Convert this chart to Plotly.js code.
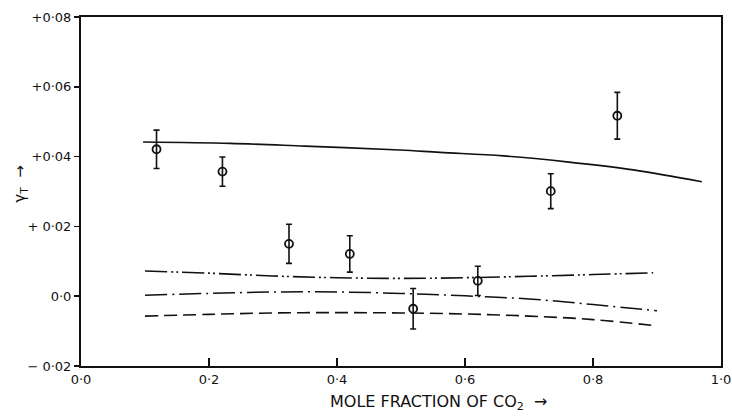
<!DOCTYPE html>
<html>
<head>
<meta charset="utf-8">
<script src="https://cdn.plot.ly/plotly-3.0.1.min.js"></script>
<style>html,body{margin:0;padding:0;background:#fff;}#chart{width:732px;height:419px;}</style>
</head>
<body>
<div id="chart"></div>
<script>
// Experimental points
const pointX = [0.118, 0.221, 0.325, 0.420, 0.519, 0.620, 0.734, 0.838];
const pointY = [0.0421, 0.0357, 0.0150, 0.0121, -0.0036, 0.0044, 0.0301, 0.0517];
const pointErr = [0.0055, 0.0042, 0.0056, 0.0052, 0.0058, 0.0042, 0.0050, 0.0067];

// Solid curve
const solidX = [0.097, 0.233, 0.35, 0.498, 0.561, 0.66, 0.759, 0.863, 0.97];
const solidY = [0.0442, 0.0438, 0.0430, 0.0419, 0.0412, 0.0402, 0.0385, 0.0362, 0.0328];

// Dash-dot-dot curve
const ddotX = [0.10, 0.20, 0.30, 0.40, 0.50, 0.60, 0.70, 0.80, 0.894];
const ddotY = [0.0072, 0.0066, 0.0058, 0.0053, 0.0051, 0.0053, 0.0057, 0.0062, 0.0067];

// Dash-dot curve
const dotX = [0.10, 0.20, 0.30, 0.40, 0.50, 0.60, 0.70, 0.80, 0.90];
const dotY = [0.0003, 0.0008, 0.0012, 0.0012, 0.0008, 0.0001, -0.0008, -0.0024, -0.0042];

// Dashed curve
const dashX = [0.10, 0.20, 0.30, 0.40, 0.50, 0.60, 0.70, 0.80, 0.90];
const dashY = [-0.0057, -0.0052, -0.0048, -0.0047, -0.0048, -0.0051, -0.0057, -0.0067, -0.0085];

// Tick labels
const xTickVals = [0, 0.2, 0.4, 0.6, 0.8, 1.0];
const xTickText = ['0·0', '0·2', '0·4', '0·6', '0·8', '1·0'];
const yTickVals = [-0.02, 0, 0.02, 0.04, 0.06, 0.08];
const yTickText = ['− 0·02', '0·0', '+ 0·02', '+0·04', '+0·06', '+0·08'];

const ink = '#111';
const traces = [
  {x: solidX, y: solidY, mode: 'lines', line: {color: ink, width: 1.6, shape: 'spline'}, hoverinfo: 'skip'},
  {x: ddotX, y: ddotY, mode: 'lines', line: {color: ink, width: 1.6, shape: 'spline', dash: '22px,4px,2px,3px,2px,4px'}, hoverinfo: 'skip'},
  {x: dotX, y: dotY, mode: 'lines', line: {color: ink, width: 1.5, shape: 'spline', dash: '22px,5px,2px,5px'}, hoverinfo: 'skip'},
  {x: dashX, y: dashY, mode: 'lines', line: {color: ink, width: 1.6, shape: 'spline', dash: '13px,6px'}, hoverinfo: 'skip'},
  {x: pointX, y: pointY, mode: 'markers',
   marker: {symbol: 'circle-open', size: 8, color: ink, line: {width: 1.8, color: ink}},
   error_y: {type: 'data', array: pointErr, visible: true, color: ink, thickness: 1.6, width: 3}}
];

const font = {family: 'DejaVu Sans, Arial, sans-serif', color: ink};
const layout = {
  width: 732, height: 419,
  margin: {l: 81, r: 11, t: 17, b: 53},
  paper_bgcolor: '#fff', plot_bgcolor: '#fff',
  showlegend: false,
  font: font,
  xaxis: {
    range: [0, 1], showgrid: false, zeroline: false,
    showline: true, linecolor: ink, linewidth: 2, mirror: true,
    ticks: 'inside', ticklen: 8, tickwidth: 1.5, tickcolor: ink,
    tickvals: xTickVals, ticktext: xTickText,
    tickfont: {family: font.family, size: 13, color: ink}
  },
  yaxis: {
    range: [-0.02, 0.08], showgrid: false, zeroline: false,
    showline: true, linecolor: ink, linewidth: 2, mirror: true,
    ticks: 'outside', ticklen: 5, tickwidth: 1.5, tickcolor: ink,
    tickvals: yTickVals, ticktext: yTickText,
    tickfont: {family: font.family, size: 13, color: ink}
  },
  annotations: [
    {xref: 'paper', yref: 'paper', x: 0.56, y: -0.106, xanchor: 'center', yanchor: 'middle',
     text: 'MOLE FRACTION OF CO<sub>2</sub>  →', showarrow: false,
     font: {family: font.family, size: 16, color: ink}},
    {xref: 'paper', yref: 'paper', x: -0.095, y: 0.52, xanchor: 'center', yanchor: 'middle',
     textangle: -90, text: 'γ<sub>T</sub>  →', showarrow: false,
     font: {family: font.family, size: 15, color: ink}}
  ]
};

Plotly.newPlot('chart', traces, layout, {staticPlot: true, displayModeBar: false});
</script>
</body>
</html>
